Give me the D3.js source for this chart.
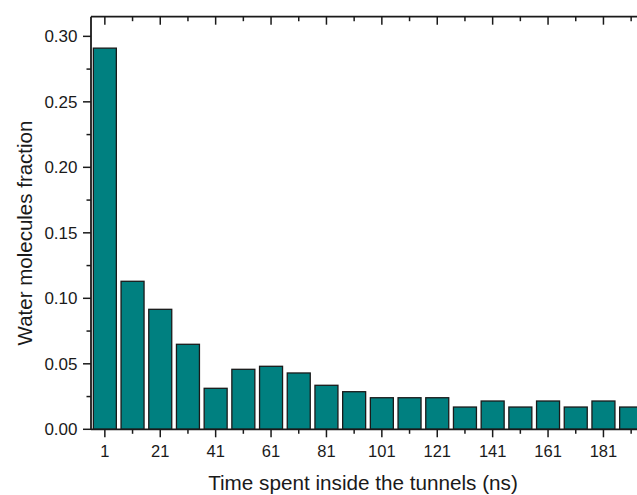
<!DOCTYPE html>
<html>
<head>
<meta charset="utf-8">
<script src="https://cdn.jsdelivr.net/npm/d3@7"></script>
<style>
  html, body { margin: 0; padding: 0; background: #fff; }
  svg { display: block; font-family: Arial, "Liberation Sans", sans-serif; }
</style>
</head>
<body>
<svg id="chart" width="637" height="495"></svg>
<script>
// bin start (ns) and fraction of water molecules
const bins = [1, 11, 21, 31, 41, 51, 61, 71, 81, 91, 101, 111, 121, 131, 141, 151, 161, 171, 181, 191];
const fractions = [0.291, 0.113, 0.0916, 0.0649, 0.0313, 0.0458, 0.0481, 0.043, 0.0336, 0.0287,
                   0.0241, 0.0241, 0.0241, 0.017, 0.0216, 0.017, 0.0216, 0.017, 0.0216, 0.017];
const xMajor = [1, 21, 41, 61, 81, 101, 121, 141, 161, 181];
const xMinor = [11, 31, 51, 71, 91, 111, 131, 151, 171, 191];
const yMajor = [0, 0.05, 0.10, 0.15, 0.20, 0.25, 0.30];
const yMinor = [0.025, 0.075, 0.125, 0.175, 0.225, 0.275];

const m = { top: 16.7, left: 91, bottom: 429.3, right: 645 };

const svg = d3.select("#chart");
const x = d3.scaleLinear().domain([-4, 196]).range([m.left, m.right]);
const y = d3.scaleLinear().domain([0, 0.315]).range([m.bottom, m.top]);

const ink = "#1a1a1a";
const half = 4.15;

// Bars
svg.append("g").selectAll("rect").data(bins).join("rect")
  .attr("x", (d) => x(d - half))
  .attr("width", x(d3.min(bins) + half) - x(d3.min(bins) - half))
  .attr("y", (d, i) => y(fractions[i]))
  .attr("height", (d, i) => y(0) - y(fractions[i]))
  .attr("fill", "#008080")
  .attr("stroke", ink).attr("stroke-width", 1.3);

// ticks helper
function ticks(g, vals, len, fn) {
  g.selectAll(null).data(vals).join("line").each(function (d) { fn(d3.select(this), d, len); })
    .attr("stroke", ink).attr("stroke-width", 1.5);
}

const axes = svg.append("g");
// frame lines
axes.append("line").attr("x1", m.left).attr("x2", m.right).attr("y1", y(0)).attr("y2", y(0));
axes.append("line").attr("x1", m.left).attr("x2", m.right).attr("y1", m.top).attr("y2", m.top);
axes.append("line").attr("x1", m.left).attr("x2", m.left).attr("y1", m.top).attr("y2", y(0));
axes.append("line").attr("x1", m.right).attr("x2", m.right).attr("y1", m.top).attr("y2", y(0));
axes.selectAll("line").attr("stroke", ink).attr("stroke-width", 1.8);

// bottom (outward) and top (inward)
const xt = (sel, d, len) => sel.attr("x1", x(d)).attr("x2", x(d)).attr("y1", y(0)).attr("y2", y(0) + len);
const xtTop = (sel, d, len) => sel.attr("x1", x(d)).attr("x2", x(d)).attr("y1", m.top).attr("y2", m.top + len);
ticks(axes.append("g"), xMajor, 8, xt);
ticks(axes.append("g"), xMinor, 4.5, xt);
ticks(axes.append("g"), xMajor, 8, xtTop);
ticks(axes.append("g"), xMinor, 4.5, xtTop);

// left (outward) and right (inward)
const yt = (sel, d, len) => sel.attr("x1", m.left).attr("x2", m.left - len).attr("y1", y(d)).attr("y2", y(d));
const ytR = (sel, d, len) => sel.attr("x1", m.right).attr("x2", m.right - len).attr("y1", y(d)).attr("y2", y(d));
ticks(axes.append("g"), yMajor, 8, yt);
ticks(axes.append("g"), yMinor, 4.5, yt);
ticks(axes.append("g"), yMajor, 8, ytR);
ticks(axes.append("g"), yMinor, 4.5, ytR);

// tick labels
svg.append("g").selectAll("text").data(xMajor).join("text")
  .attr("x", (d) => x(d)).attr("y", 457)
  .attr("text-anchor", "middle")
  .style("font-size", "16.5px").style("fill", ink)
  .text((d) => d);

svg.append("g").selectAll("text").data(yMajor).join("text")
  .attr("x", 77.5).attr("y", (d) => y(d)).attr("dy", "0.36em")
  .attr("text-anchor", "end")
  .style("font-size", "17px").style("fill", ink)
  .text((d) => d.toFixed(2));

// titles
svg.append("text")
  .attr("x", 363).attr("y", 490)
  .attr("text-anchor", "middle")
  .style("font-size", "20.7px").style("fill", ink)
  .text("Time spent inside the tunnels (ns)");

svg.append("text")
  .attr("transform", "translate(31.5,233) rotate(-90)")
  .attr("text-anchor", "middle")
  .style("font-size", "20.5px").style("fill", ink)
  .text("Water molecules fraction");
</script>
</body>
</html>
